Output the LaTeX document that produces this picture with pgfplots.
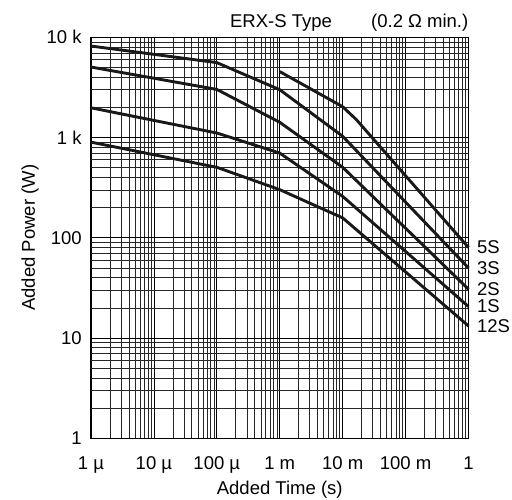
\documentclass[border=0pt]{standalone}
\usepackage{fontspec}
\setmainfont{Liberation Sans}
\usepackage{pgfplots}
\pgfplotsset{compat=1.18}
\pgfplotsset{curve/.style={black!90, line width=2.9pt, line join=round, mark=none}}

\begin{document}
\fontsize{18.5}{22}\selectfont
\begin{tikzpicture}
\begin{axis}[
    scale only axis,
    width=377.5pt, height=401pt,
    xmode=log, ymode=log,
    xmin=1e-6, xmax=1, ymin=1, ymax=1e4,
    xtick={1e-6,1e-5,1e-4,1e-3,1e-2,1e-1,1},
    xticklabels={1 µ,10 µ,100 µ,1 m,10 m,100 m,1},
    ytick={1,10,100,1000,10000},
    yticklabels={1,10,100,1 k,10 k},
    minor xtick={2e-6,3e-6,4e-6,5e-6,6e-6,7e-6,8e-6,9e-6,
                 2e-5,3e-5,4e-5,5e-5,6e-5,7e-5,8e-5,9e-5,
                 2e-4,3e-4,4e-4,5e-4,6e-4,7e-4,8e-4,9e-4,
                 2e-3,3e-3,4e-3,5e-3,6e-3,7e-3,8e-3,9e-3,
                 2e-2,3e-2,4e-2,5e-2,6e-2,7e-2,8e-2,9e-2,
                 0.2,0.3,0.4,0.5,0.6,0.7,0.8,0.9},
    minor ytick={2,3,4,5,6,7,8,9,20,30,40,50,60,70,80,90,
                 200,300,400,500,600,700,800,900,
                 2000,3000,4000,5000,6000,7000,8000,9000},
    grid=both,
    major grid style={black, line width=0.7pt},
    minor grid style={black!85, line width=0.6pt},
    axis line style={black, line width=1pt},
    tick style={draw=none},
    xticklabel style={yshift=-12pt},
    yticklabel style={xshift=-3pt},
    xlabel={Added Time (s)},
    ylabel={Added Power (W)},
    xlabel style={at={(axis description cs:0.5,0)}, anchor=center, yshift=-51.5pt},
    ylabel style={at={(axis description cs:0,0.5)}, anchor=center, yshift=61pt},
    clip=false,
]

% 5S
\addplot[curve] coordinates {(1e-3,4550) (1e-2,2030) (1.65e-2,1510) (1,80)}
    node[pos=1, anchor=west, xshift=1pt, black] {5S};
% 3S
\addplot[curve] coordinates {(1e-6,8180) (1e-4,5590) (1e-3,3000) (1e-2,1030) (1,50)}
    node[pos=1, anchor=west, xshift=1pt, black] {3S};
% 2S
\addplot[curve] coordinates {(1e-6,5050) (1e-4,3020) (1e-3,1420) (1e-2,505) (1,30.7)}
    node[pos=1, anchor=west, xshift=1pt, black] {2S};
% 1S
\addplot[curve] coordinates {(1e-6,1980) (1e-4,1110) (1e-3,700) (1e-2,259) (1,20.6)}
    node[pos=1, anchor=west, xshift=1pt, black] {1S};
% 12S
\addplot[curve] coordinates {(1e-6,900) (1e-4,505) (1e-3,302) (1e-2,158) (1,13.2)}
    node[pos=1, anchor=west, xshift=1pt, black] {12S};

\node[anchor=base west, inner sep=0pt, yshift=9.8pt] at (axis description cs:0.368,1) {ERX-S Type};
\node[anchor=base east, inner sep=0pt, yshift=9.8pt] at (axis description cs:1,1) {(0.2 Ω min.)};
\end{axis}
\pgfresetboundingbox
\path (current axis.south west) ++(-91pt,-60.7pt) rectangle ++(512pt,499pt);
\end{tikzpicture}
\end{document}
